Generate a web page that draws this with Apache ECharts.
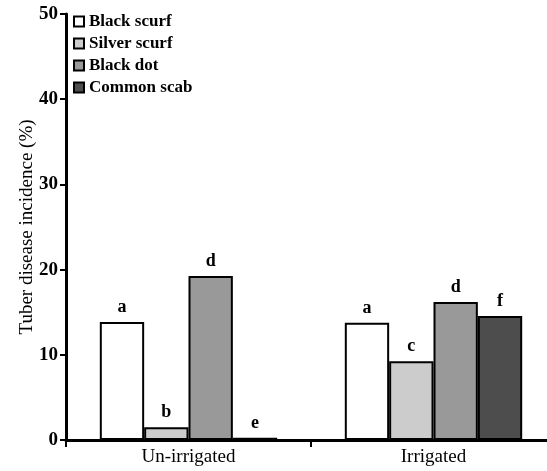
<!DOCTYPE html>
<html><head><meta charset="utf-8">
<script src="https://cdn.jsdelivr.net/npm/echarts@6/dist/echarts.min.js"></script>
<style>html,body{margin:0;padding:0;background:#fff}#c{width:547px;height:471px}</style>
</head><body><div id="c"></div>
<script>
const categories = ['Un-irrigated', 'Irrigated'];
const seriesNames = ['Black scurf', 'Silver scurf', 'Black dot', 'Common scab'];
const blackScurf = [13.85, 13.75];
const silverScurf = [1.5, 9.25];
const blackDot = [19.25, 16.2];
const commonScab = [0.25, 14.55];
const lettersBlackScurf = ['a', 'a'];
const lettersSilverScurf = ['b', 'c'];
const lettersBlackDot = ['d', 'd'];
const lettersCommonScab = ['e', 'f'];
const yTicks = [0, 10, 20, 30, 40, 50];

const colors = ['#ffffff', '#cccccc', '#999999', '#4d4d4d'];
const values = [blackScurf, silverScurf, blackDot, commonScab];
const letters = [lettersBlackScurf, lettersSilverScurf, lettersBlackDot, lettersCommonScab];
const FONT = '"Liberation Serif", "DejaVu Serif", serif';

const chart = echarts.init(document.getElementById('c'));
chart.setOption({
  animation: false,
  textStyle: { fontFamily: FONT },
  grid: { left: 66, right: -9, top: 14, bottom: 31, containLabel: false, outerBoundsMode: 'none' },
  legend: {
    orient: 'vertical', left: 73, top: 13, padding: 0,
    itemWidth: 10, itemHeight: 10, itemGap: 5,
    icon: 'rect',
    itemStyle: { borderColor: '#000', borderWidth: 2 },
    textStyle: { fontFamily: FONT, fontWeight: 'bold', fontSize: 17, color: '#000' },
    data: seriesNames
  },
  xAxis: {
    type: 'category', data: categories,
    axisLine: { lineStyle: { color: '#000', width: 3 } },
    axisTick: { show: true, length: 7, lineStyle: { color: '#000', width: 2 }, interval: 0 },
    axisLabel: { color: '#000', fontSize: 19, fontFamily: FONT, margin: 8 }
  },
  yAxis: {
    type: 'value', min: yTicks[0], max: yTicks[yTicks.length - 1], interval: 10,
    name: 'Tuber disease incidence (%)', nameLocation: 'middle', nameGap: 29,
    nameMoveOverlap: false,
    nameTextStyle: { color: '#000', fontSize: 19, fontFamily: FONT },
    axisLine: { show: true, lineStyle: { color: '#000', width: 3 } },
    axisTick: { show: true, length: 6, lineStyle: { color: '#000', width: 2 } },
    axisLabel: { color: '#000', fontSize: 19, fontWeight: 'bold', fontFamily: FONT, margin: 8 },
    splitLine: { show: false }
  },
  series: seriesNames.map((name, i) => ({
    name, type: 'bar', data: values[i],
    barGap: '0%', barCategoryGap: '27.6%',
    itemStyle: { color: colors[i], borderColor: '#000', borderWidth: 2 },
    label: {
      show: true, position: 'top', distance: 6,
      formatter: p => letters[i][p.dataIndex],
      color: '#000', fontWeight: 'bold', fontSize: 18, fontFamily: FONT
    }
  }))
});
</script></body></html>
